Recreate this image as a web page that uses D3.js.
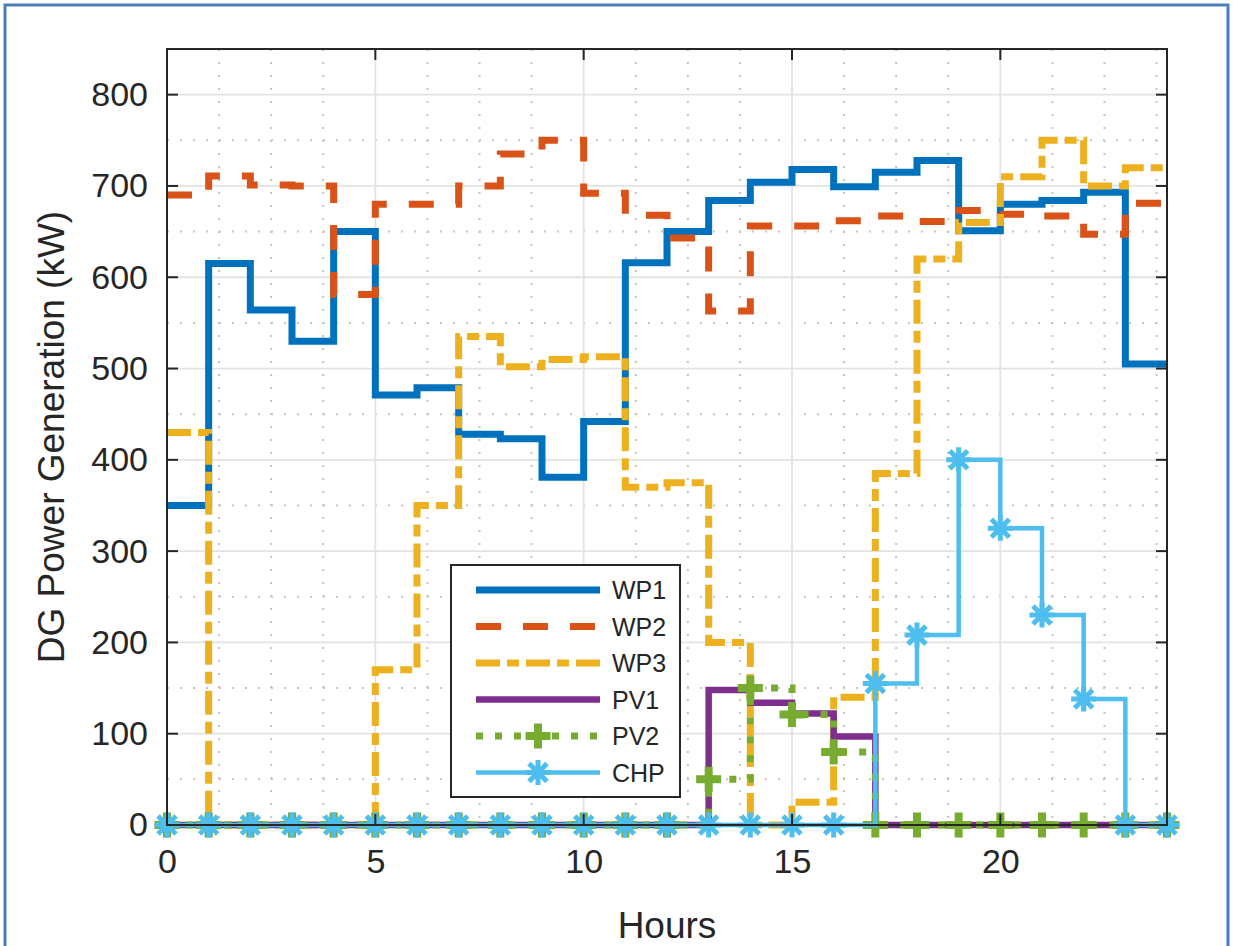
<!DOCTYPE html>
<html>
<head>
<meta charset="utf-8">
<script src="https://cdn.jsdelivr.net/npm/d3@7"></script>
<style>
  body { margin: 0; background: #fff; }
  text { font-family: "Liberation Sans", Arial, Helvetica, sans-serif; fill: #262626; }
</style>
</head>
<body>
<svg id="mainsvg" width="1233" height="946"></svg>
<script>
// hours 0..24, stairs style, last value repeated
var hours = [0,1,2,3,4,5,6,7,8,9,10,11,12,13,14,15,16,17,18,19,20,21,22,23,24];

var wp1 = [350,615,564,530,650,471,479,428,423,381,442,616,650,684,704,718,699,715,728,651,680,684,693,505,505];
var wp2 = [690,711,701,700,581,680,680,700,735,750,692,668,643,563,656,656,662,667,661,673,669,667,647,681,681];
var wp3 = [430,0,0,0,0,170,350,535,502,510,513,370,375,200,0,25,140,385,620,660,710,750,700,720,720];
var pv1 = [0,0,0,0,0,0,0,0,0,0,0,0,0,148,134,122,97,0,0,0,0,0,0,0,0];
var pv2 = [0,0,0,0,0,0,0,0,0,0,0,0,0,50,150,121,80,0,0,0,0,0,0,0,0];
var chp = [0,0,0,0,0,0,0,0,0,0,0,0,0,0,0,0,0,155,208,400,325,230,138,0,0];

var seriesNames = ["WP1","WP2","WP3","PV1","PV2","CHP"];
var xTicks = [0,5,10,15,20];
var yTicks = [0,100,200,300,400,500,600,700,800];

var series = [
    {name:"WP1", values:wp1, color:"#0072BD", width:7, dash:null, marker:null},
    {name:"WP2", values:wp2, color:"#D95319", width:7, dash:"25,22", marker:null},
    {name:"WP3", values:wp3, color:"#EDB120", width:7, dash:"24,7,12,7", marker:null},
    {name:"PV1", values:pv1, color:"#7E2F8E", width:6.5, dash:null, marker:null},
    {name:"PV2", values:pv2, color:"#77AC30", width:7, dash:"7,12", marker:"plus"},
    {name:"CHP", values:chp, color:"#4DBEEE", width:4.5, dash:null, marker:"star"}
];

(function(){
    var svg = d3.select("#mainsvg");

    // outer picture frame
    svg.append("rect")
        .attr("x",5).attr("y",5)
        .attr("width",1223).attr("height",960)
        .attr("fill","none")
        .attr("stroke","#4a7ebb")
        .attr("stroke-width",3);

    var pLeft = 167, pRight = 1167, pTop = 49, pBottom = 825;

    var x = d3.scaleLinear().domain([0,24]).range([pLeft,pRight]);
    var y = d3.scaleLinear().domain([0,850]).range([pBottom,pTop]);

    var grid = svg.append("g").attr("id","grid");

    // minor grid
    var xMinor = [];
    for(var m = 1.25; m < 24; m += 1.25){ if(m % 5 !== 0) xMinor.push(m); }
    var yMinor = [];
    for(var n = 50; n < 850; n += 100){ yMinor.push(n); }

    grid.selectAll("line.xminor").data(xMinor).enter().append("line")
        .attr("class","xminor")
        .attr("x1",function(d){return x(d);}).attr("x2",function(d){return x(d);})
        .attr("y1",pTop).attr("y2",pBottom)
        .attr("stroke","#c4c4c4").attr("stroke-width",2)
        .attr("stroke-dasharray","2,11");
    grid.selectAll("line.yminor").data(yMinor).enter().append("line")
        .attr("class","yminor")
        .attr("y1",function(d){return y(d);}).attr("y2",function(d){return y(d);})
        .attr("x1",pLeft).attr("x2",pRight)
        .attr("stroke","#c4c4c4").attr("stroke-width",2)
        .attr("stroke-dasharray","2,11");

    // major grid
    grid.selectAll("line.xmajor").data(xTicks).enter().append("line")
        .attr("class","xmajor")
        .attr("x1",function(d){return x(d);}).attr("x2",function(d){return x(d);})
        .attr("y1",pTop).attr("y2",pBottom)
        .attr("stroke","#e3e3e3").attr("stroke-width",1.8);
    grid.selectAll("line.ymajor").data(yTicks).enter().append("line")
        .attr("class","ymajor")
        .attr("y1",function(d){return y(d);}).attr("y2",function(d){return y(d);})
        .attr("x1",pLeft).attr("x2",pRight)
        .attr("stroke","#e3e3e3").attr("stroke-width",1.8);

    // tick labels via d3 axes
    var xAxis = d3.axisBottom(x).tickValues(xTicks).tickSize(0).tickPadding(24);
    var yAxis = d3.axisLeft(y).tickValues(yTicks).tickSize(0).tickPadding(19);

    var gx = svg.append("g").attr("transform","translate(0,"+pBottom+")").call(xAxis);
    var gy = svg.append("g").attr("transform","translate("+pLeft+",0)").call(yAxis);
    [gx,gy].forEach(function(g){
        g.select(".domain").remove();
        g.selectAll("text")
            .attr("font-size",34)
            .attr("font-family","Liberation Sans, Arial, sans-serif")
            .attr("fill","#262626");
    });

    var lines = d3.line()
        .x(function(d){return x(d[0]);})
        .y(function(d){return y(d[1]);})
        .curve(d3.curveStepAfter);

    var plot = svg.append("g").attr("id","plot");

    function markerPath(type){
        var r = 12.5;
        if(type === "plus"){
            return "M"+(-r)+",0H"+r+"M0,"+(-r)+"V"+r;
        }
        var d = r*0.72;
        return "M"+(-r)+",0H"+r+"M0,"+(-r)+"V"+r+
               "M"+(-d)+","+(-d)+"L"+d+","+d+"M"+(-d)+","+d+"L"+d+","+(-d);
    }

    series.forEach(function(s){
        var pts = hours.map(function(h,i){return [h, s.values[i]];});
        plot.append("path")
            .attr("d",lines(pts))
            .attr("fill","none")
            .attr("stroke",s.color)
            .attr("stroke-width",s.width)
            .attr("stroke-linejoin","miter")
            .attr("stroke-dasharray",s.dash);
        if(s.marker){
            plot.selectAll("path.m"+s.name).data(pts).enter().append("path")
                .attr("class","m"+s.name)
                .attr("transform",function(d){return "translate("+x(d[0])+","+y(d[1])+")";})
                .attr("d",markerPath(s.marker))
                .attr("fill","none")
                .attr("stroke",s.color)
                .attr("stroke-width",s.marker === "plus" ? 8 : 5);
        }
    });

    // axes box and inward ticks
    var box = svg.append("g").attr("id","box");
    box.append("rect")
        .attr("x",pLeft).attr("y",pTop)
        .attr("width",pRight-pLeft).attr("height",pBottom-pTop)
        .attr("fill","none").attr("stroke","#262626").attr("stroke-width",2);
    yTicks.forEach(function(t){
        box.append("line").attr("x1",pLeft).attr("x2",pLeft+11)
            .attr("y1",y(t)).attr("y2",y(t)).attr("stroke","#262626").attr("stroke-width",2);
        box.append("line").attr("x1",pRight).attr("x2",pRight-11)
            .attr("y1",y(t)).attr("y2",y(t)).attr("stroke","#262626").attr("stroke-width",2);
    });
    xTicks.forEach(function(t){
        box.append("line").attr("x1",x(t)).attr("x2",x(t))
            .attr("y1",pBottom).attr("y2",pBottom-11).attr("stroke","#262626").attr("stroke-width",2);
        box.append("line").attr("x1",x(t)).attr("x2",x(t))
            .attr("y1",pTop).attr("y2",pTop+11).attr("stroke","#262626").attr("stroke-width",2);
    });

    // axis titles
    svg.append("text")
        .attr("x",(pLeft+pRight)/2).attr("y",938)
        .attr("text-anchor","middle")
        .attr("font-size",37)
        .text("Hours");
    svg.append("text")
        .attr("transform","translate(64,"+((pTop+pBottom)/2)+") rotate(-90)")
        .attr("text-anchor","middle")
        .attr("font-size",37)
        .text("DG Power Generation (kW)");

    // legend
    var legend = svg.append("g").attr("id","legend").attr("transform","translate(451,565)");
    legend.append("rect")
        .attr("width",229).attr("height",232)
        .attr("fill","#fff").attr("stroke","#262626").attr("stroke-width",2);
    series.forEach(function(s,i){
        var ly = 25 + i*36.5;
        var row = legend.append("g").attr("transform","translate(0,"+ly+")");
        row.append("line")
            .attr("x1",25).attr("x2",149).attr("y1",0).attr("y2",0)
            .attr("stroke",s.color)
            .attr("stroke-width",s.width)
            .attr("stroke-dasharray",s.dash);
        if(s.marker){
            row.append("path")
                .attr("transform","translate(87,0)")
                .attr("d",markerPath(s.marker))
                .attr("fill","none")
                .attr("stroke",s.color)
                .attr("stroke-width",s.marker === "plus" ? 8 : 5);
        }
        row.append("text")
            .attr("x",161).attr("y",0).attr("dy","0.36em")
            .attr("font-size",25)
            .text(seriesNames[i]);
    });
})();
</script>
</body>
</html>
